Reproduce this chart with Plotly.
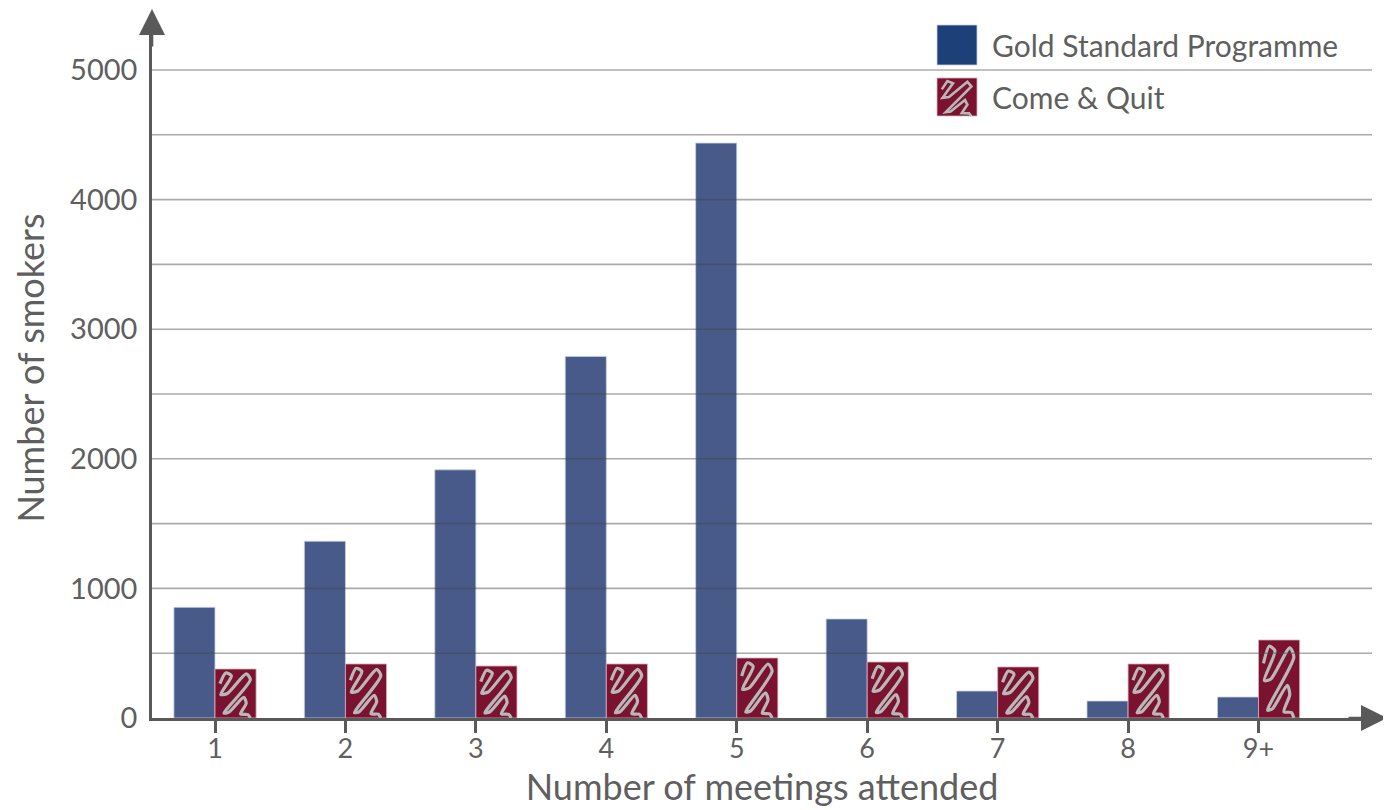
import plotly.graph_objects as go

# ---- data ----
categories = ["1", "2", "3", "4", "5", "6", "7", "8", "9+"]
gold_standard = [854, 1364, 1915, 2790, 4436, 764, 208, 131, 162]
come_and_quit = [378, 417, 401, 417, 463, 432, 394, 417, 602]
y_tick_values = [0, 1000, 2000, 3000, 4000, 5000]

# ---- style ----
BLUE = "#475a8a"
BLUE_LEGEND = "#1d4079"
RED = "#7b1230"
SQUIGGLE_COLOR = "#b8b8b8"
AXIS_COLOR = "#595959"
TEXT_COLOR = "#5f5f5f"
FONT = "Lato"
BAR_W = 0.315

# normalized squiggle decoration (u across bar width, v up bar height)
SQUIGGLE = [(0.12, 0.70), (0.26, 0.92), (0.40, 0.86), (0.14, 0.48), (0.30, 0.50),
            (0.76, 0.90), (0.86, 0.78), (0.22, 0.10), (0.34, 0.12), (0.70, 0.42),
            (0.76, 0.30), (0.62, 0.08), (0.80, 0.07), (0.86, 0.00)]

xs = list(range(len(categories)))

fig = go.Figure()
fig.add_trace(go.Bar(x=xs, y=gold_standard, name="Gold Standard Programme",
                     marker=dict(color=BLUE, line=dict(color="#c9d0e0", width=0.8)),
                     width=BAR_W, offset=-BAR_W, showlegend=False))
fig.add_trace(go.Bar(x=xs, y=come_and_quit, name="Come & Quit",
                     marker=dict(color=RED, line=dict(color="#d9b0bc", width=0.8)),
                     width=BAR_W, offset=0, showlegend=False))

# squiggle decoration inside each Come & Quit bar, scaled from its value
sx, sy = [], []
for i, v in zip(xs, come_and_quit):
    for (u, w) in SQUIGGLE:
        sx.append(i + u * BAR_W)
        sy.append(w * v)
    sx.append(None)
    sy.append(None)
fig.add_trace(go.Scatter(x=sx, y=sy, mode="lines",
                         line=dict(color=SQUIGGLE_COLOR, width=3.2, shape="spline", smoothing=0.7),
                         hoverinfo="skip", showlegend=False, connectgaps=False))

# page offset (browser body margin)
O = 8
# plot geometry in screen pixels of the reference
W, H = 1391 - O, 810 - O
L, R, T, B = 152, 1372, 18, 718
pw, ph = R - L, B - T


def px(x):
    return (x - L) / pw


def py(y):
    return (B - y) / ph


shapes = []
# gridlines (drawn above bars, semi-transparent)
for g in range(500, 5001, 500):
    shapes.append(dict(type="line", xref="paper", yref="y", x0=0, x1=1, y0=g, y1=g,
                       line=dict(color="rgba(70,70,70,0.46)", width=1.6), layer="above"))

# manual legend
shapes.append(dict(type="rect", xref="paper", yref="paper",
                   x0=px(937), x1=px(977), y0=py(65), y1=py(25),
                   fillcolor=BLUE_LEGEND, line=dict(color="#c9d0e0", width=0.8)))
shapes.append(dict(type="rect", xref="paper", yref="paper",
                   x0=px(937), x1=px(977), y0=py(116), y1=py(78),
                   fillcolor=RED, line=dict(color="#d9b0bc", width=0.8)))
lx0, lx1, ly0, ly1 = px(937), px(977), py(116), py(78)
path = ""
for k, (u, w) in enumerate(SQUIGGLE):
    xx = lx0 + u * (lx1 - lx0)
    yy = ly0 + w * (ly1 - ly0)
    path += ("M" if k == 0 else " L") + f" {xx:.5f},{yy:.5f}"
shapes.append(dict(type="path", xref="paper", yref="paper", path=path,
                   line=dict(color=SQUIGGLE_COLOR, width=2.6)))

annotations = [
    dict(xref="paper", yref="paper", x=px(990), y=py(45), xanchor="left", yanchor="middle",
         text="Gold Standard Programme", showarrow=False,
         font=dict(family=FONT, size=30, color=TEXT_COLOR)),
    dict(xref="paper", yref="paper", x=px(990), y=py(97), xanchor="left", yanchor="middle",
         text="Come & Quit", showarrow=False,
         font=dict(family=FONT, size=30, color=TEXT_COLOR)),
    # axis arrows
    dict(xref="paper", yref="paper", x=px(1387), y=0, ax=-40, ay=0, text="",
         showarrow=True, arrowhead=2, arrowsize=2.0, arrowwidth=2.6, arrowcolor=AXIS_COLOR),
    dict(xref="paper", yref="paper", x=0, y=py(8), ax=0, ay=40, text="",
         showarrow=True, arrowhead=2, arrowsize=2.0, arrowwidth=2.6, arrowcolor=AXIS_COLOR),
]

fig.update_layout(
    width=W, height=H,
    margin=dict(l=L - O, r=(W + O) - R, t=T - O, b=(H + O) - B),
    paper_bgcolor="white", plot_bgcolor="white",
    font=dict(family=FONT, color=TEXT_COLOR),
    shapes=shapes, annotations=annotations,
)
fig.update_xaxes(
    range=[-0.483, 8.87],
    tickmode="array", tickvals=xs, ticktext=categories,
    showgrid=False, zeroline=False,
    showline=True, linecolor=AXIS_COLOR, linewidth=2.6,
    ticks="outside", ticklen=12, tickwidth=2.6, tickcolor=AXIS_COLOR,
    ticklabelstandoff=-7,
    tickfont=dict(family=FONT, size=27, color=TEXT_COLOR),
    title=dict(text="Number of meetings attended", font=dict(family=FONT, size=36, color=TEXT_COLOR),
               standoff=2),
)
fig.update_yaxes(
    range=[0, 700 / 0.1296],
    tickmode="array", tickvals=y_tick_values,
    showgrid=False, zeroline=False,
    showline=True, linecolor=AXIS_COLOR, linewidth=2.6,
    ticks="", ticklabelstandoff=6,
    tickfont=dict(family=FONT, size=29, color=TEXT_COLOR),
    title=dict(text="Number of smokers", font=dict(family=FONT, size=36, color=TEXT_COLOR),
               standoff=17),
)

fig.write_html("out.html")
